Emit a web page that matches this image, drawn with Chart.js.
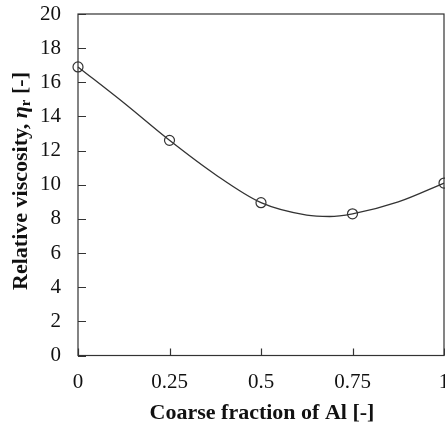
<!DOCTYPE html>
<html>
<head>
<meta charset="utf-8">
<script src="https://cdn.jsdelivr.net/npm/chart.js@4/dist/chart.umd.min.js"></script>
<style>
  html, body { margin: 0; padding: 0; background: #fff; }
  #wrap { width: 445px; height: 425px; }
</style>
</head>
<body>
<div id="wrap"><canvas id="viscChart" width="445" height="425"></canvas></div>
<script>
// measured points (open circles)
const coarseFraction = [0, 0.25, 0.5, 0.75, 1];
const viscosity = [16.9, 12.6, 8.95, 8.3, 10.1];

// trend curve
const curveX = [0, 0.125, 0.25, 0.375, 0.5, 0.625, 0.6875, 0.75, 0.875, 1];
const curveY = [16.9, 14.8, 12.6, 10.6, 8.95, 8.22, 8.14, 8.3, 9.0, 10.1];

const xTicks = [0, 0.25, 0.5, 0.75, 1];
const yTicks = [0, 2, 4, 6, 8, 10, 12, 14, 16, 18, 20];

const INK = "#333";
const SERIF = "'Liberation Serif', 'Times New Roman', serif";

const frameAndTicks = {
  id: "frameAndTicks",
  afterDraw(chart) {
    const { ctx, chartArea: a, scales } = chart;
    ctx.save();
    ctx.strokeStyle = INK;
    ctx.lineWidth = 1.2;
    ctx.strokeRect(a.left, a.top, a.right - a.left, a.bottom - a.top);
    ctx.beginPath();
    yTicks.forEach((v) => {
      const y = Math.round(scales.y.getPixelForValue(v)) + 0.5;
      ctx.moveTo(a.left, y);
      ctx.lineTo(a.left + 8, y);
    });
    xTicks.forEach((v) => {
      const x = Math.round(scales.x.getPixelForValue(v)) + 0.5;
      ctx.moveTo(x, a.bottom);
      ctx.lineTo(x, a.bottom - 7);
    });
    ctx.stroke();

    // axis titles
    ctx.fillStyle = "#111";
    ctx.textBaseline = "middle";
    ctx.font = `bold 22px ${SERIF}`;
    ctx.textAlign = "center";
    ctx.fillText("Coarse fraction of Al [-]", 262, 413);

    // rotated y title with italic eta and subscript r
    const parts = [
      { t: "Relative viscosity, ", f: `bold 22px ${SERIF}`, dy: 0 },
      { t: "\u03B7", f: `italic bold 22px ${SERIF}`, dy: 0 },
      { t: "r", f: `bold 15px ${SERIF}`, dy: 5 },
      { t: " [-]", f: `bold 22px ${SERIF}`, dy: 0 },
    ];
    let total = 0;
    parts.forEach((p) => {
      ctx.font = p.f;
      p.w = ctx.measureText(p.t).width;
      total += p.w;
    });
    ctx.translate(21, 181);
    ctx.rotate(-Math.PI / 2);
    ctx.textAlign = "left";
    let x = -total / 2;
    parts.forEach((p) => {
      ctx.font = p.f;
      ctx.fillText(p.t, x, p.dy);
      x += p.w;
    });
    ctx.restore();
  },
};

new Chart(document.getElementById("viscChart").getContext("2d"), {
  type: "scatter",
  data: {
    datasets: [
      {
        type: "line",
        data: curveX.map((x, i) => ({ x, y: curveY[i] })),
        borderColor: INK,
        borderWidth: 1.3,
        pointRadius: 0,
        cubicInterpolationMode: "monotone",
        fill: false,
        clip: false,
      },
      {
        data: coarseFraction.map((x, i) => ({ x, y: viscosity[i] })),
        borderColor: INK,
        backgroundColor: "rgba(255,255,255,0)",
        borderWidth: 1.2,
        pointRadius: 5,
        clip: false,
      },
    ],
  },
  options: {
    responsive: false,
    animation: false,
    layout: { autoPadding: false, padding: { left: 0, right: 1, top: 14, bottom: 0 } },
    plugins: { legend: { display: false }, tooltip: { enabled: false } },
    scales: {
      x: {
        type: "linear",
        min: 0,
        max: 1,
        afterBuildTicks: (s) => { s.ticks = xTicks.map((v) => ({ value: v })); },
        afterFit: (s) => { s.height = 69.5; s.paddingLeft = 0; s.paddingRight = 0; },
        grid: { display: false, drawTicks: false },
        border: { display: false },
        ticks: {
          padding: 14,
          color: "#111",
          font: { family: SERIF, size: 21 },
          maxRotation: 0,
          autoSkip: false,
          callback: (v) => String(v),
        },
      },
      y: {
        min: 0,
        max: 20,
        afterBuildTicks: (s) => { s.ticks = yTicks.map((v) => ({ value: v })); },
        afterFit: (s) => { s.width = 78; s.paddingTop = 0; s.paddingBottom = 0; },
        grid: { display: false, drawTicks: false },
        border: { display: false },
        ticks: {
          padding: 17,
          color: "#111",
          font: { family: SERIF, size: 21 },
          autoSkip: false,
          callback: (v) => String(v),
        },
      },
    },
  },
  plugins: [frameAndTicks],
});
</script>
</body>
</html>
